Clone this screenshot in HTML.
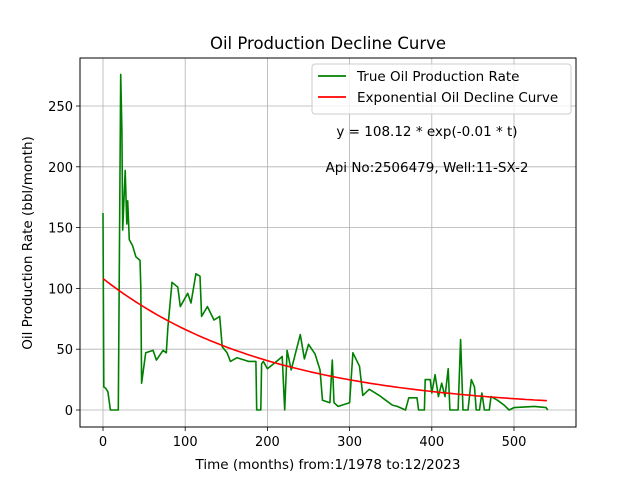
<!DOCTYPE html>
<html><head><meta charset="utf-8"><style>
body{margin:0;background:#fff}
svg{display:block;font-family:"DejaVu Sans","Liberation Sans",sans-serif}
</style></head><body>
<svg id="chart" width="640" height="480" viewBox="0 0 640 480">
<rect width="640" height="480" fill="#fff"/>
<g id="grid"></g>
<g id="series"></g>
<rect x="80" y="58" width="496" height="369" fill="none" stroke="#000" stroke-width="1"/>
<g id="ticks"></g>
<text x="328" y="49" font-size="16.5" text-anchor="middle">Oil Production Decline Curve</text>
<text x="328" y="469" font-size="13.5" text-anchor="middle">Time (months) from:1/1978 to:12/2023</text>
<text x="32" y="243" font-size="13.5" text-anchor="middle" transform="rotate(-90 32 243)">Oil Production Rate (bbl/month)</text>
<text x="427" y="136" font-size="13.5" text-anchor="middle">y = 108.12 * exp(-0.01 * t)</text>
<text x="427" y="172" font-size="13.5" text-anchor="middle">Api No:2506479, Well:11-SX-2</text>
<g>
<rect x="312" y="64" width="259" height="50" rx="3" fill="#fff" fill-opacity="0.8" stroke="#ccc"/>
<line x1="318" y1="76" x2="346" y2="76" stroke="green" stroke-width="1.8"/>
<text x="357" y="81" font-size="13.5">True Oil Production Rate</text>
<line x1="318" y1="97" x2="346" y2="97" stroke="red" stroke-width="1.8"/>
<text x="357" y="102" font-size="13.5">Exponential Oil Decline Curve</text>
</g>
</svg>
<script>
const months=[0,1,3,6,9,18.6,21.5,23,24,27,29,30,32,36,40,45,46,47,52,61,65,73,77,79,84,91,94,103,107,113,118,120,127,135,142,145,151,155,163,177,186,187,192,193,195,200,213,218,221,224,229,240,245,250,258,264,267,276,279,281,286,300,304,312,316,324,336,344,352,358,368,372,382,384,391,392,398,400,404,408,412,416,420,422,432,435,438,444,448,452,454,458,461,464,470,472,480,488,494,500,525,539,541];
const rates=[162,19,18,15,0,0,276,230,148,197,153,172,140,135,126,123,101,22,47,49,41,49,47,68,105,101,85,96,88,112,110,77,85,74,77,52,47,40,43,40,40,0,0,38,40,34,41,44,0,49,33,62,42,54,46,33,8,6,41,6,3,6,47,36,12,17,12,8,4,3,0,10,10,0,0,25,25,14,29,11,22,11,34,0,0,58,0,0,25,19,0,0,14,0,0,11,8,4,0,2,3,2,0];
const fitA=108.12;
const fitK=0.0049;
const xTicks=[0,100,200,300,400,500];
const yTicks=[0,50,100,150,200,250];
const X=t=>103+t*0.822;
const Y=v=>410-v*1.216;
const NS="http://www.w3.org/2000/svg";
function mk(tag,attrs,parent){const e=document.createElementNS(NS,tag);for(const k in attrs)e.setAttribute(k,attrs[k]);parent.appendChild(e);return e;}
const grid=document.getElementById('grid'),ticks=document.getElementById('ticks'),series=document.getElementById('series');
xTicks.forEach(t=>{
  const g=mk('line',{x1:X(t),x2:X(t),y1:58,y2:427,stroke:'#b0b0b0','stroke-width':0.8},grid);
  
  
  const tk=mk('line',{x1:X(t),x2:X(t),y1:427,y2:431,stroke:'#000','stroke-width':0.8},ticks);
  
  
  const lb=mk('text',{x:X(t),y:446,'font-size':13,'text-anchor':'middle'},ticks);
  lb.textContent=t;
  
  
});
yTicks.forEach(v=>{
  const g=mk('line',{x1:80,x2:576,y1:Y(v),y2:Y(v),stroke:'#b0b0b0','stroke-width':0.8},grid);
  
  
  const tk=mk('line',{x1:76,x2:80,y1:Y(v),y2:Y(v),stroke:'#000','stroke-width':0.8},ticks);
  
  
  const lb=mk('text',{x:73,y:Y(v)+5,'font-size':13,'text-anchor':'end'},ticks);
  lb.textContent=v;
  
  
});
const pts=months.map((t,i)=>X(t).toFixed(1)+','+Y(rates[i]).toFixed(1)).join(' ');
const pl=mk('polyline',{points:pts,fill:'none',stroke:'green','stroke-width':1.6,'stroke-linejoin':'round'},series);


const fp=[];for(let t=0;t<=540;t+=5)fp.push(X(t).toFixed(1)+','+Y(fitA*Math.exp(-fitK*t)).toFixed(1));
const fl=mk('polyline',{points:fp.join(' '),fill:'none',stroke:'red','stroke-width':1.6},series);


</script>
</body></html>
